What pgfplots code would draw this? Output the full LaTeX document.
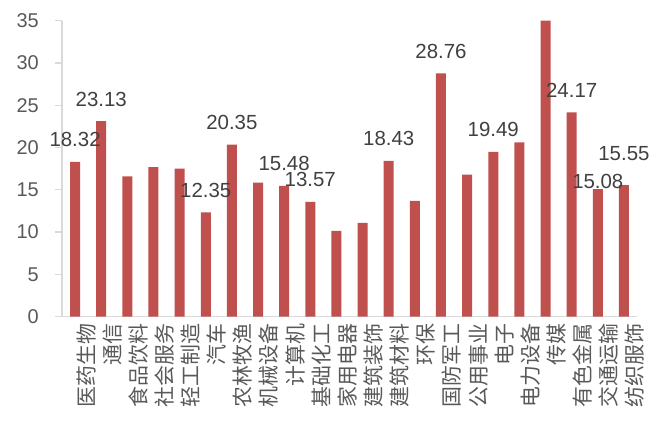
\documentclass[border=0pt]{standalone}
\usepackage{pgfplots}
\pgfplotsset{compat=1.18}
\usepackage{fontspec}
\setmainfont{Liberation Sans}
\newfontfamily\cjk{Noto Sans CJK SC}
\definecolor{barred}{HTML}{C0504D}
\definecolor{axgray}{HTML}{D9D9D9}
\definecolor{txtdark}{HTML}{404040}
\definecolor{txtgray}{HTML}{595959}

\begin{document}
\begin{tikzpicture}[x=1bp,y=1bp]
\path[use as bounding box] (0,0) rectangle (667,421);
\begin{axis}[
  at={(62bp,104.3bp)}, anchor=south west,
  width=575bp, height=296bp, scale only axis,
  xmin=-0.5, xmax=21.5, ymin=0, ymax=35,
  axis x line*=bottom, axis y line*=left,
  axis line style={draw=axgray, line width=1.3bp},
  ytick={0,5,...,35},
  ytick style={draw=axgray, line width=1.3bp},
  tick align=outside, major tick length=7bp,
  xtick={0,...,21},
  xtick style={draw=none},
  xticklabels={医药生物,通信,食品饮料,社会服务,轻工制造,汽车,农林牧渔,机械设备,计算机,基础化工,家用电器,建筑装饰,建筑材料,环保,国防军工,公用事业,电子,电力设备,传媒,有色金属,交通运输,纺织服饰},
  xticklabel style={rotate=90, anchor=east, font=\cjk\fontsize{21}{21}\selectfont, text=txtgray, inner sep=0pt, yshift=-11bp},
  yticklabel style={font=\fontsize{20}{24}\selectfont, text=txtgray, inner sep=0pt, xshift=-16bp},
  /pgf/number format/assume math mode=true,
  clip=false,
]
\addplot[ybar, bar width=10bp, fill=barred, draw=none] coordinates {
(0,18.32) (1,23.13) (2,16.6) (3,17.7) (4,17.5) (5,12.35) (6,20.35) (7,15.85)
(8,15.48) (9,13.57) (10,10.15) (11,11.1) (12,18.43) (13,13.7) (14,28.76)
(15,16.8) (16,19.49) (17,20.6) (18,35.0) (19,24.17) (20,15.08) (21,15.55)
};
\addplot[draw=none, nodes near coords, point meta=explicit symbolic,
  nodes near coords style={font=\fontsize{20.5}{24}\selectfont, text=txtdark, anchor=center, inner sep=0pt, yshift=22bp}]
coordinates {
(0,18.32)[18.32] (1,23.13)[23.13] (5,12.35)[12.35] (6,20.35)[20.35]
(8,15.48)[15.48] (9,13.57)[13.57] (12,18.43)[18.43] (14,28.76)[28.76]
(16,19.49)[19.49] (19,24.17)[24.17]
};
\addplot[draw=none, nodes near coords, point meta=explicit symbolic,
  nodes near coords style={font=\fontsize{20.5}{24}\selectfont, text=txtdark, anchor=center, inner sep=0pt, yshift=8bp}]
coordinates {(20,15.08)[15.08]};
\addplot[draw=none, nodes near coords, point meta=explicit symbolic,
  nodes near coords style={font=\fontsize{20.5}{24}\selectfont, text=txtdark, anchor=center, inner sep=0pt, yshift=32bp}]
coordinates {(21,15.55)[15.55]};
\end{axis}
\end{tikzpicture}
\end{document}
